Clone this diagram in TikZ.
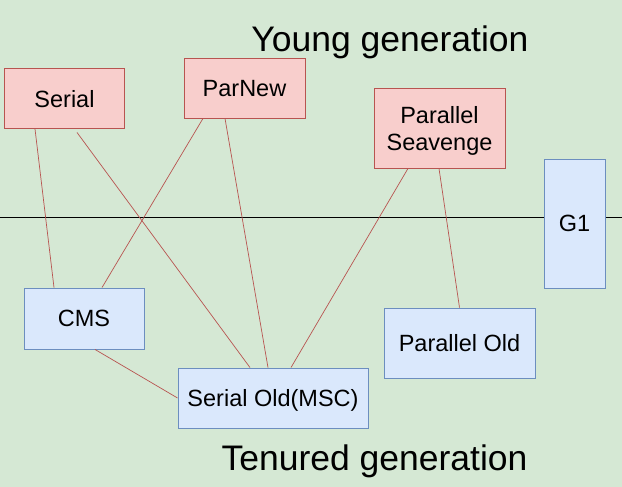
\documentclass[tikz,border=0pt]{standalone}
\usepackage{fontspec}
\setmainfont{Liberation Sans}
\definecolor{bggreen}{HTML}{D5E8D4}
\definecolor{youngfill}{HTML}{F8CECC}
\definecolor{youngdraw}{HTML}{B85450}
\definecolor{oldfill}{HTML}{DAE8FC}
\definecolor{olddraw}{HTML}{6C8EBF}
\tikzset{
	young/.style={draw=youngdraw, fill=youngfill, line width=0.9pt, inner sep=0pt, text depth=0pt, align=center, font=\fontsize{23.5}{27}\selectfont},
	old/.style={draw=olddraw, fill=oldfill, line width=0.9pt, inner sep=0pt, text depth=0pt, align=center, font=\fontsize{23.5}{27}\selectfont},
	pair/.style={draw=youngdraw, line width=0.7pt},
	gen/.style={anchor=base, font=\fontsize{35.5}{40}\selectfont}
}

\begin{document}
\begin{tikzpicture}[x=1pt, y=-1pt]
		\fill[bggreen] (0,0) rectangle (622,487);
		\useasboundingbox (0,0) rectangle (622,487);
		\draw[line width=0.9pt] (0,217) -- (622,217);
		
		\node[gen] (younglabel) at (390,52) {Young generation};
		\node[gen] (tenuredlabel) at (374.5,470) {Tenured generation};
		
		\node[young, minimum width=120pt, minimum height=60pt] (serial) at (64.5,98.5) {Serial};
		\node[young, minimum width=121pt, minimum height=60pt] (parnew) at (244.5,88) {ParNew};
		\node[young, minimum width=131pt, minimum height=80pt] (parscav) at (439.5,128) {Parallel\\Seavenge};
		\node[old, minimum width=61pt, minimum height=129pt] (gone) at (574.5,223.5) {G1};
		\node[old, minimum width=120pt, minimum height=61pt] (cms) at (84,318.5) {CMS};
		\node[old, minimum width=190pt, minimum height=60pt] (serialold) at (273,398) {Serial Old(MSC)};
		\node[old, minimum width=151pt, minimum height=70pt] (parold) at (459.5,343) {Parallel Old};
		
		\draw[pair] ([xshift=-29.5pt]serial.south) -- ([xshift=-30pt]cms.north);
		\draw[pair] ([xshift=12.5pt, yshift=-3.5pt]serial.south) -- ([xshift=-23pt]serialold.north);
		\draw[pair] ([xshift=-41.5pt]parnew.south) -- ([xshift=18pt]cms.north);
		\draw[pair] ([xshift=-19.5pt]parnew.south) -- ([xshift=-5pt]serialold.north);
		\draw[pair] ([xshift=-31.5pt]parscav.south) -- ([xshift=18pt]serialold.north);
		\draw[pair] ([xshift=-0.5pt]parscav.south) -- (parold.north);
		\draw[pair] ([xshift=11pt]cms.south) -- (serialold.west);
	\end{tikzpicture}
\end{document}
